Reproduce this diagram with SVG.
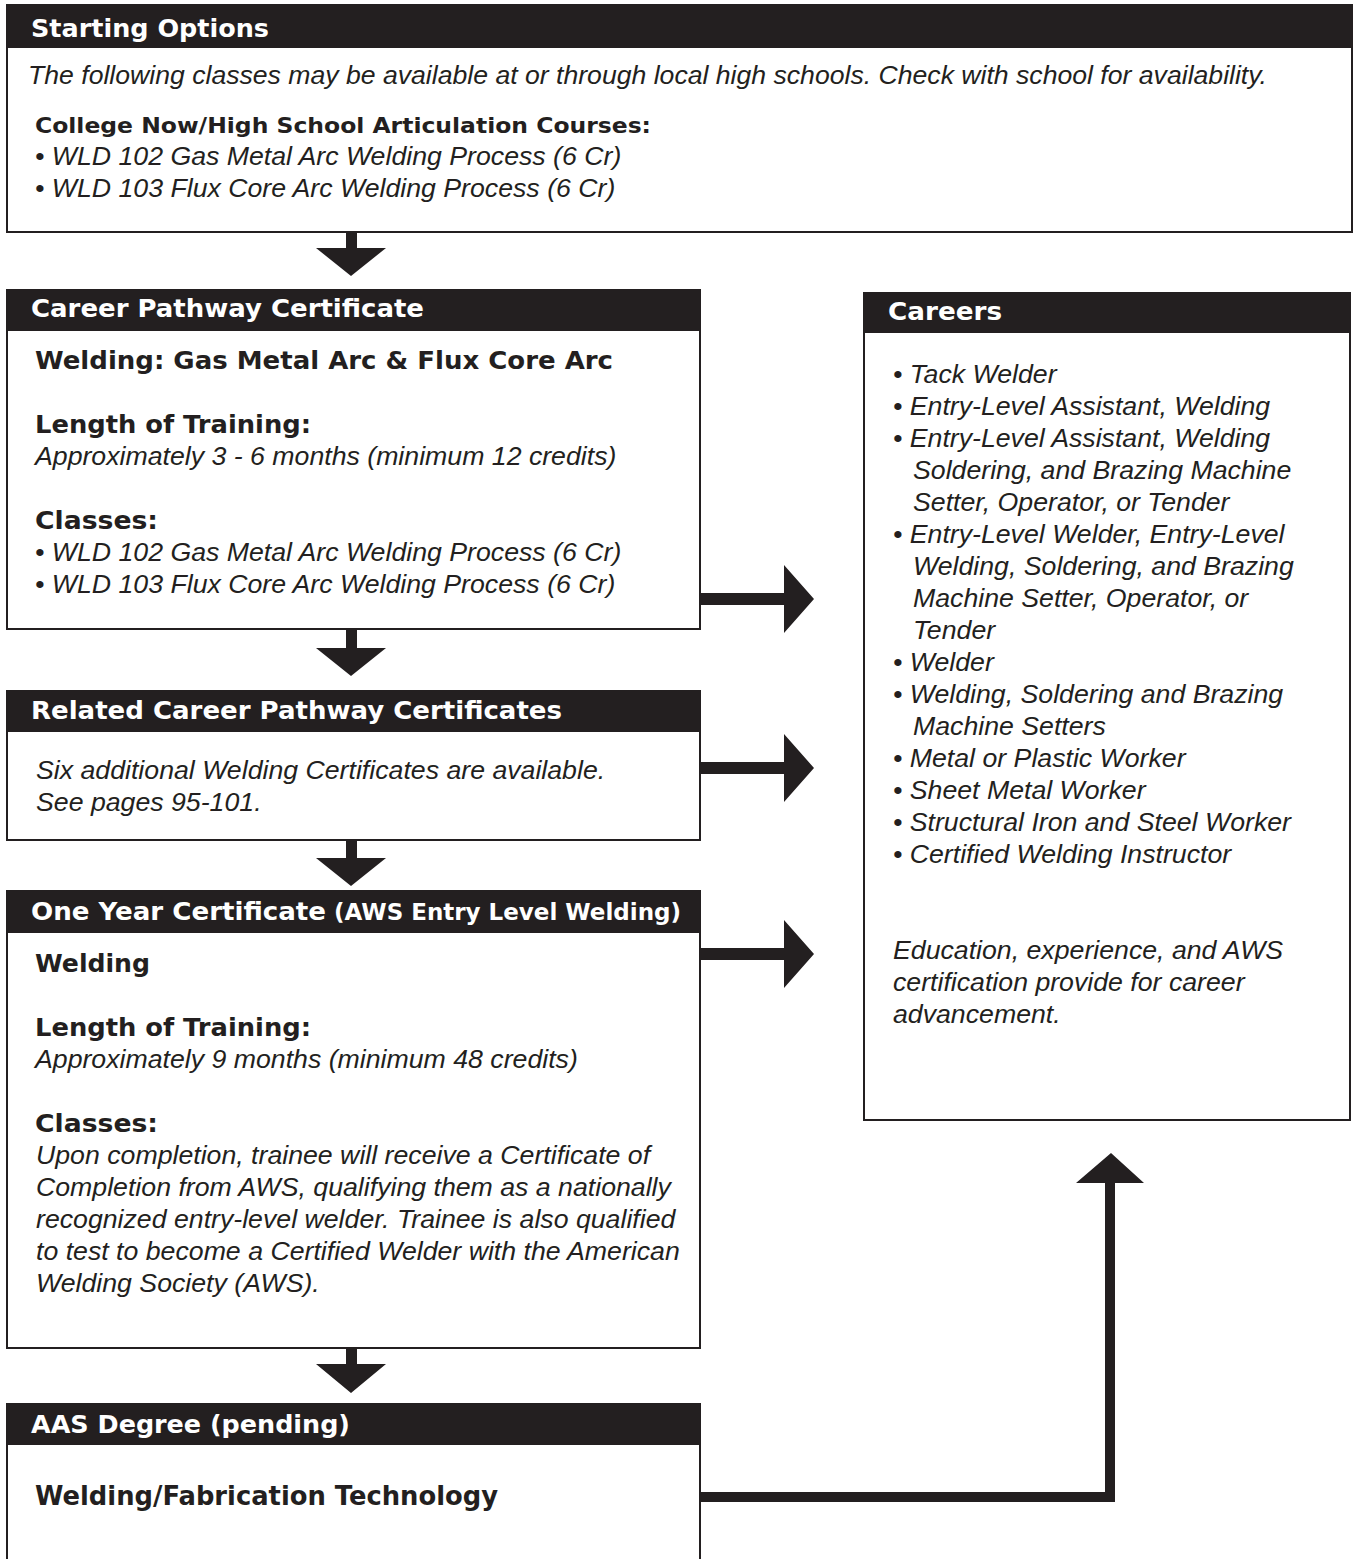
<svg xmlns="http://www.w3.org/2000/svg" width="1354" height="1559" viewBox="0 0 1354 1559">
<style>
.box{fill:#fff;stroke:#231f20;stroke-width:2}
.hdr{fill:#231f20}
.ht{font-family:"DejaVu Sans","Liberation Sans",sans-serif;font-weight:bold;fill:#fff;font-size:25px}
.bt{font-family:"DejaVu Sans","Liberation Sans",sans-serif;font-weight:bold;fill:#231f20;font-size:24px}
.it{font-family:"Liberation Sans",Arial,sans-serif;font-style:italic;fill:#231f20;font-size:26.7px}
.arrow{fill:#231f20}
</style>
<rect width="1354" height="1559" fill="#fff"/>

<g id="starting-options">
<rect class="box" x="7" y="5" width="1345" height="227"/>
<rect class="hdr" x="6" y="4" width="1347" height="44"/>
<text class="ht" x="31" y="37" textLength="238" lengthAdjust="spacingAndGlyphs">Starting Options</text>
<text class="it" x="28" y="84" textLength="1239" lengthAdjust="spacingAndGlyphs">The following classes may be available at or through local high schools. Check with school for availability.</text>
<text class="bt" x="35" y="133" style="font-size:21px" textLength="616" lengthAdjust="spacingAndGlyphs">College Now/High School Articulation Courses:</text>
<text class="it" x="35" y="165">• WLD 102 Gas Metal Arc Welding Process (6 Cr)</text>
<text class="it" x="35" y="197">• WLD 103 Flux Core Arc Welding Process (6 Cr)</text>
</g>

<g id="career-pathway-certificate">
<rect class="box" x="7" y="290" width="693" height="339"/>
<rect class="hdr" x="6" y="289" width="695" height="42"/>
<text class="ht" x="31" y="317" textLength="393" lengthAdjust="spacingAndGlyphs">Career Pathway Certificate</text>
<text class="bt" x="35" y="369" textLength="578" lengthAdjust="spacingAndGlyphs">Welding: Gas Metal Arc &amp; Flux Core Arc</text>
<text class="bt" x="35" y="433" textLength="276" lengthAdjust="spacingAndGlyphs">Length of Training:</text>
<text class="it" x="35" y="465">Approximately 3 - 6 months (minimum 12 credits)</text>
<text class="bt" x="35" y="529" textLength="123" lengthAdjust="spacingAndGlyphs">Classes:</text>
<text class="it" x="35" y="561">• WLD 102 Gas Metal Arc Welding Process (6 Cr)</text>
<text class="it" x="35" y="593">• WLD 103 Flux Core Arc Welding Process (6 Cr)</text>
</g>

<g id="related-certificates">
<rect class="box" x="7" y="691" width="693" height="149"/>
<rect class="hdr" x="6" y="690" width="695" height="42"/>
<text class="ht" x="31" y="719" textLength="531" lengthAdjust="spacingAndGlyphs">Related Career Pathway Certificates</text>
<text class="it" x="36" y="779">Six additional Welding Certificates are available.</text>
<text class="it" x="36" y="811">See pages 95-101.</text>
</g>

<g id="one-year-certificate">
<rect class="box" x="7" y="891" width="693" height="457"/>
<rect class="hdr" x="6" y="890" width="695" height="43"/>
<text class="ht" x="31" y="920" textLength="295" lengthAdjust="spacingAndGlyphs">One Year Certificate</text>
<text class="ht" x="334" y="920" style="font-size:23px" textLength="347" lengthAdjust="spacingAndGlyphs">(AWS Entry Level Welding)</text>
<text class="bt" x="35" y="972" textLength="115" lengthAdjust="spacingAndGlyphs">Welding</text>
<text class="bt" x="35" y="1036" textLength="276" lengthAdjust="spacingAndGlyphs">Length of Training:</text>
<text class="it" x="35" y="1068">Approximately 9 months (minimum 48 credits)</text>
<text class="bt" x="35" y="1132" textLength="123" lengthAdjust="spacingAndGlyphs">Classes:</text>
<text class="it" x="36" y="1164">Upon completion, trainee will receive a Certificate of</text>
<text class="it" x="36" y="1196">Completion from AWS, qualifying them as a nationally</text>
<text class="it" x="36" y="1228">recognized entry-level welder. Trainee is also qualified</text>
<text class="it" x="36" y="1260">to test to become a Certified Welder with the American</text>
<text class="it" x="36" y="1292">Welding Society (AWS).</text>
</g>

<g id="aas-degree">
<rect class="box" x="7" y="1404" width="693" height="170"/>
<rect class="hdr" x="6" y="1403" width="695" height="42"/>
<text class="ht" x="31" y="1433" textLength="319" lengthAdjust="spacingAndGlyphs">AAS Degree (pending)</text>
<text class="bt" x="35" y="1505" style="font-size:26px" textLength="463" lengthAdjust="spacingAndGlyphs">Welding/Fabrication Technology</text>
</g>

<g id="careers">
<rect class="box" x="864" y="293" width="486" height="827"/>
<rect class="hdr" x="863" y="292" width="488" height="41"/>
<text class="ht" x="888" y="320" textLength="114" lengthAdjust="spacingAndGlyphs">Careers</text>
<text class="it" x="893" y="383">• Tack Welder</text>
<text class="it" x="893" y="415">• Entry-Level Assistant, Welding</text>
<text class="it" x="893" y="447">• Entry-Level Assistant, Welding</text>
<text class="it" x="913" y="479">Soldering, and Brazing Machine</text>
<text class="it" x="913" y="511">Setter, Operator, or Tender</text>
<text class="it" x="893" y="543">• Entry-Level Welder, Entry-Level</text>
<text class="it" x="913" y="575">Welding, Soldering, and Brazing</text>
<text class="it" x="913" y="607">Machine Setter, Operator, or</text>
<text class="it" x="913" y="639">Tender</text>
<text class="it" x="893" y="671">• Welder</text>
<text class="it" x="893" y="703">• Welding, Soldering and Brazing</text>
<text class="it" x="913" y="735">Machine Setters</text>
<text class="it" x="893" y="767">• Metal or Plastic Worker</text>
<text class="it" x="893" y="799">• Sheet Metal Worker</text>
<text class="it" x="893" y="831">• Structural Iron and Steel Worker</text>
<text class="it" x="893" y="863">• Certified Welding Instructor</text>
<text class="it" x="893" y="959">Education, experience, and AWS</text>
<text class="it" x="893" y="991">certification provide for career</text>
<text class="it" x="893" y="1023">advancement.</text>
</g>

<g id="connectors">
<polygon class="arrow" points="346,233 357,233 357,248 386,248 351,276 316,248 346,248"/>
<polygon class="arrow" points="346,630 357,630 357,648 386,648 351,676 316,648 346,648"/>
<polygon class="arrow" points="346,841 357,841 357,858 386,858 351,886 316,858 346,858"/>
<polygon class="arrow" points="346,1349 357,1349 357,1364 386,1364 351,1393 316,1364 346,1364"/>
<polygon class="arrow" points="701,593 784,593 784,565 814,599 784,633 784,605 701,605"/>
<polygon class="arrow" points="701,762 784,762 784,734 814,768 784,802 784,774 701,774"/>
<polygon class="arrow" points="701,948 784,948 784,920 814,954 784,988 784,960 701,960"/>
<polygon class="arrow" points="701,1492 1105,1492 1105,1183 1076,1183 1111,1153 1144,1183 1115,1183 1115,1502 701,1502"/>
</g>
</svg>
